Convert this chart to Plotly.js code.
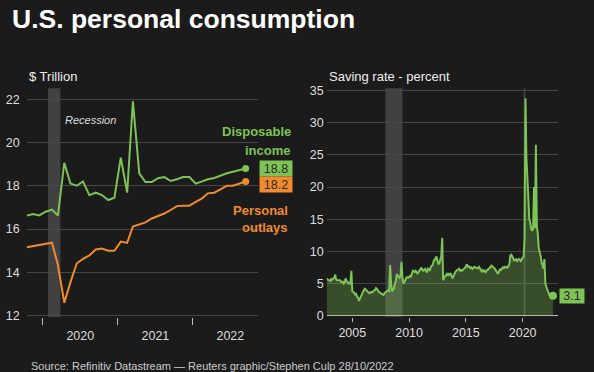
<!DOCTYPE html>
<html><head><meta charset="utf-8">
<script src="https://cdn.plot.ly/plotly-3.0.1.min.js"></script>
<style>html,body{margin:0;padding:0;background:#1b1b1b;}#chart{width:594px;height:372px;}</style>
</head><body><div id="chart"></div>
<script>
// ---- Left panel: $ trillion, monthly Oct 2019 .. Sep 2022
const incomeStartMonth = '2019-10';
const disposableIncome = [16.62, 16.69, 16.63, 16.8, 16.9, 16.63, 19.06, 18.1, 18.0, 18.2, 17.57, 17.68,
  17.57, 17.34, 17.45, 19.3, 17.68, 21.9, 18.57, 18.17, 18.17, 18.35, 18.4, 18.22,
  18.3, 18.4, 18.4, 18.1, 18.2, 18.3, 18.36, 18.48, 18.58, 18.65, 18.72, 18.8];
const personalOutlays = [15.16, 15.21, 15.26, 15.31, 15.37, 14.34, 12.6, 13.55, 14.42, 14.62, 14.78, 15.06,
  15.1, 15.0, 15.0, 15.42, 15.36, 16.12, 16.22, 16.31, 16.49, 16.6, 16.72, 16.88,
  17.06, 17.08, 17.08, 17.26, 17.42, 17.65, 17.68, 17.83, 18.0, 18.0, 18.1, 18.2];

// ---- Right panel: saving rate, percent, monthly Oct 2002 .. Sep 2022
const savingStartMonth = '2002-10';
const save2002 = [5.8, 5.6, 5.5];
const save2003 = [5.5, 5.4, 5.7, 5.6, 5.8, 5.9, 6.4, 5.6, 5.5, 5.5, 5.6, 5.5];
const save2004 = [5.3, 5.2, 5.3, 5.0, 5.2, 5.8, 5.4, 5.3, 5.0, 5.1, 4.9, 7.0];
const save2005 = [3.8, 3.7, 3.6, 3.3, 3.4, 3.0, 2.8, 2.3, 2.7, 3.1, 3.3, 3.6];
const save2006 = [3.9, 4.2, 4.1, 3.9, 3.8, 3.6, 3.5, 3.6, 3.7, 3.6, 3.8, 3.9];
const save2007 = [4.0, 4.3, 4.2, 3.9, 3.7, 3.6, 3.5, 3.4, 3.3, 3.2, 3.5, 3.6];
const save2008 = [3.8, 3.9, 4.0, 3.7, 7.9, 5.0, 3.8, 4.0, 4.3, 5.0, 5.4, 6.5];
const save2009 = [6.2, 6.0, 5.8, 6.3, 8.4, 6.0, 5.0, 5.2, 5.8, 5.9, 6.0, 5.9];
const save2010 = [6.0, 6.2, 6.1, 6.5, 7.0, 6.9, 6.8, 7.0, 6.7, 6.5, 6.8, 7.1];
const save2011 = [7.4, 7.5, 7.1, 7.0, 7.2, 7.3, 6.9, 6.8, 7.3, 7.1, 7.0, 7.6];
const save2012 = [7.8, 7.9, 8.5, 8.8, 9.0, 9.2, 8.6, 8.0, 8.2, 8.8, 9.2, 12.1];
const save2013 = [5.5, 5.9, 6.1, 6.3, 6.5, 6.2, 6.5, 6.4, 6.6, 6.1, 5.8, 6.2];
const save2014 = [6.6, 6.8, 7.0, 7.1, 7.2, 7.3, 7.0, 7.1, 7.0, 7.2, 7.3, 7.4];
const save2015 = [7.7, 8.0, 7.6, 7.7, 7.6, 7.4, 7.5, 7.3, 7.4, 7.6, 7.5, 7.5];
const save2016 = [7.5, 7.4, 7.6, 7.3, 6.9, 6.8, 7.1, 6.9, 7.0, 6.8, 7.0, 7.2];
const save2017 = [7.3, 7.4, 7.6, 7.8, 7.7, 7.6, 7.4, 7.2, 7.0, 6.7, 6.5, 6.9];
const save2018 = [7.2, 7.1, 7.3, 7.5, 7.4, 7.6, 7.5, 7.6, 7.5, 7.7, 8.0, 9.4];
const save2019 = [9.5, 9.2, 9.0, 8.6, 8.7, 8.8, 8.5, 8.6, 8.8, 8.7, 8.5, 8.8];
const save2020 = [9.0, 9.2, 12.0, 33.8, 24.5, 19.5, 18.5, 15.0, 14.5, 13.5, 13.2, 13.5];
const save2021 = [20.0, 13.6, 26.6, 14.0, 12.8, 10.5, 10.0, 9.3, 8.3, 7.5, 7.3, 8.8];
const save2022 = [5.0, 4.5, 4.0, 3.5, 3.3, 3.4, 3.3, 3.2, 3.1];
const savingRate = [].concat(save2002, save2003, save2004, save2005, save2006, save2007, save2008,
  save2009, save2010, save2011, save2012, save2013, save2014, save2015, save2016, save2017,
  save2018, save2019, save2020, save2021, save2022);

// recession periods
const recessions = [['2007-12-01', '2009-06-01'], ['2020-02-01', '2020-04-01']];

function monthDates(start, n, day) {
  let [y, m] = start.split('-').map(Number);
  const out = [];
  for (let i = 0; i < n; i++) {
    out.push(y + '-' + String(m).padStart(2, '0') + '-' + day);
    m++; if (m > 12) { m = 1; y++; }
  }
  return out;
}
const incomeDates = monthDates(incomeStartMonth, disposableIncome.length, '15');
const savingDates = monthDates(savingStartMonth, savingRate.length, '01');

const GREEN = '#7ec356', ORANGE = '#f08b2d', BG = '#1b1b1b';
const GRID = '#474747', TICKTXT = '#dddddd';
const FONT = 'Liberation Sans, Arial, sans-serif';
const last = a => a[a.length - 1];

const traces = [
  {x: savingDates, y: savingRate, xaxis: 'x2', yaxis: 'y2', type: 'scatter', mode: 'lines',
   fill: 'tozeroy', fillcolor: 'rgba(126,195,86,0.30)', line: {color: GREEN, width: 2}, hoverinfo: 'skip'},
  {x: [last(savingDates)], y: [last(savingRate)], xaxis: 'x2', yaxis: 'y2', mode: 'markers',
   marker: {color: GREEN, size: 8}},
  {x: incomeDates, y: personalOutlays, xaxis: 'x', yaxis: 'y', mode: 'lines', line: {color: ORANGE, width: 2}},
  {x: incomeDates, y: disposableIncome, xaxis: 'x', yaxis: 'y', mode: 'lines', line: {color: GREEN, width: 2}},
  {x: [last(incomeDates)], y: [last(disposableIncome)], xaxis: 'x', yaxis: 'y', mode: 'markers', marker: {color: GREEN, size: 7}},
  {x: [last(incomeDates)], y: [last(personalOutlays)], xaxis: 'x', yaxis: 'y', mode: 'markers', marker: {color: ORANGE, size: 7}}
];

const W = 594, H = 372;
const px = v => v / W, py = v => 1 - v / H;

const shapes = [
  {type: 'rect', xref: 'x', yref: 'y domain', x0: '2020-01-27', x1: '2020-03-27', y0: 0, y1: 1,
   fillcolor: 'rgba(255,255,255,0.17)', line: {width: 0}, layer: 'below'}
];
recessions.forEach(r => shapes.push({type: 'rect', xref: 'x2', yref: 'y2 domain', x0: r[0], x1: r[1], y0: 0, y1: 1,
  fillcolor: 'rgba(255,255,255,0.17)', line: {width: 0}, layer: 'below'}));

const txt = (text, x, y, opts) => Object.assign({text, xref: 'paper', yref: 'paper', x: px(x), y: py(y),
  showarrow: false, xanchor: 'left', yanchor: 'middle', font: {family: FONT, size: 13, color: '#eeeeee'}}, opts || {});

const annotations = [
  txt('$ Trillion', 26.7, 76),
  txt('Saving rate - percent', 326.7, 76),
  txt('<i>Recession</i>', 63, 119.5, {font: {family: FONT, size: 11, color: '#dddddd'}}),
  txt('<b>Disposable</b>', 292.7, 131.7, {xanchor: 'right', font: {family: FONT, size: 13, color: GREEN}}),
  txt('<b>income</b>', 292.7, 150, {xanchor: 'right', font: {family: FONT, size: 13, color: GREEN}}),
  txt('<b>Personal</b>', 290, 210, {xanchor: 'right', font: {family: FONT, size: 13, color: ORANGE}}),
  txt('<b>outlays</b>', 290, 227.7, {xanchor: 'right', font: {family: FONT, size: 13, color: ORANGE}}),
  {text: last(disposableIncome).toFixed(1), xref: 'paper', yref: 'y', x: px(259), y: last(disposableIncome),
   xanchor: 'left', yanchor: 'middle', showarrow: false, bgcolor: GREEN, width: 32, height: 15, borderpad: 0,
   font: {family: FONT, size: 12.5, color: '#2a2a2a'}},
  {text: last(personalOutlays).toFixed(1), xref: 'paper', yref: 'y', x: px(259), y: last(personalOutlays), yshift: -3,
   xanchor: 'left', yanchor: 'middle', showarrow: false, bgcolor: ORANGE, width: 32, height: 15, borderpad: 0,
   font: {family: FONT, size: 12.5, color: '#2a2a2a'}},
  {text: last(savingRate).toFixed(1), xref: 'paper', yref: 'y2', x: px(559), y: last(savingRate),
   xanchor: 'left', yanchor: 'middle', showarrow: false, bgcolor: GREEN, width: 24, height: 14, borderpad: 0,
   font: {family: FONT, size: 12.5, color: '#2a2a2a'}},
  txt('Source: Refinitiv Datastream \u2014 Reuters graphic/Stephen Culp 28/10/2022', 29, 366,
   {font: {family: FONT, size: 11, color: '#cccccc'}})
];

const yDom = [py(317), py(88.3)];
const axisFont = {family: FONT, size: 12.5, color: TICKTXT};

const layout = {
  width: W, height: H, margin: {l: 0, r: 0, t: 0, b: 0},
  paper_bgcolor: BG, plot_bgcolor: BG, showlegend: false,
  title: {text: '<b>U.S. personal consumption</b>', x: px(12), xanchor: 'left', xref: 'paper',
          y: py(19), yanchor: 'middle', yref: 'container', font: {family: FONT, size: 26.5, color: '#ffffff'}},
  xaxis: {domain: [px(26.7), px(258)], type: 'date', range: ['2019-10-15', '2022-11-14'],
          tick0: '2020-01-01', dtick: 'M12', tickformat: '%Y', ticklabelmode: 'period',
          ticks: 'outside', ticklen: 7, tickcolor: '#bbbbbb', tickfont: axisFont,
          showgrid: false, zeroline: false, showline: false, anchor: 'y'},
  yaxis: {domain: yDom, range: [11.94, 22.5], tick0: 12, dtick: 2, gridcolor: GRID, gridwidth: 1,
          zeroline: false, tickfont: axisFont, ticks: '', ticklabelstandoff: 6, anchor: 'x'},
  xaxis2: {domain: [px(326.7), px(558.3)], type: 'date', range: ['2002-10-01', '2023-02-20'],
           tick0: '2005-01-01', dtick: 'M60', tickformat: '%Y', ticks: 'outside', ticklen: 4,
           tickcolor: '#bbbbbb', tickfont: axisFont, showgrid: false, zeroline: false, anchor: 'y2'},
  yaxis2: {domain: yDom, range: [-0.2, 35.37], tick0: 0, dtick: 5, gridcolor: GRID, gridwidth: 1,
           zeroline: true, zerolinecolor: '#bbbbbb', zerolinewidth: 1.5, tickfont: axisFont, ticks: '',
           ticklabelstandoff: 2, anchor: 'x2'},
  shapes, annotations
};

Plotly.newPlot('chart', traces, layout, {staticPlot: true, displayModeBar: false});
</script></body></html>
